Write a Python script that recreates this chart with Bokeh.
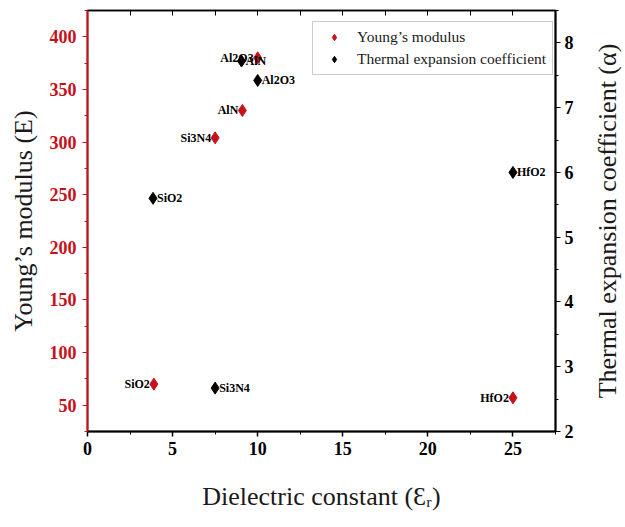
import math
from bokeh.plotting import figure
from bokeh.layouts import row
from bokeh.models import Range1d, LinearAxis, SingleIntervalTicker, FixedTicker, Legend, LegendItem, ColumnDataSource
from bokeh.core.properties import value
from bokeh.embed import file_html
from bokeh.resources import INLINE

# Data
materials_e = ["Al2O3", "AlN", "Si3N4", "SiO2", "HfO2"]
k_e = [10.0, 9.1, 7.5, 3.9, 25.0]
youngs = [380, 330, 304, 70, 57]

materials_a = ["AlN", "Al2O3", "SiO2", "HfO2", "Si3N4"]
k_a = [9.05, 10.0, 3.85, 25.0, 7.5]
thermal = [7.72, 7.42, 5.6, 6.0, 2.67]

right_title_text = ["Thermal expansion coefficient (\u03b1)"]

SERIF = "Liberation Serif"
RED = "#c8101a"
TITLE_COLOR = "#1a1a1a"

p = figure(width=580, height=527, x_range=Range1d(0, 27.5), y_range=Range1d(25, 425),
           output_backend="svg", toolbar_location=None,
           min_border_left=87, min_border_right=25, min_border_top=10, min_border_bottom=96)
p.extra_y_ranges = {"right": Range1d(2, 8.5)}
p.grid.visible = False
p.outline_line_color = "black"
p.outline_line_width = 1.5
p.background_fill_color = "white"
p.border_fill_color = "white"

# bottom axis
xa = p.xaxis[0]
xa.ticker = SingleIntervalTicker(interval=5, num_minor_ticks=2)
xa.axis_label = "Dielectric constant (\u0190\u1d63)"
xa.axis_label_text_font = SERIF
xa.axis_label_text_font_style = "normal"
xa.axis_label_text_font_size = "26px"
xa.axis_label_text_color = TITLE_COLOR
xa.axis_label_standoff = 24
xa.major_label_text_font = SERIF
xa.major_label_text_font_style = "bold"
xa.major_label_text_font_size = "18px"
xa.major_label_text_color = "black"
xa.major_label_standoff = 5
xa.axis_line_width = 2
xa.axis_line_color = "black"
xa.major_tick_out = 5
xa.major_tick_in = 0
xa.minor_tick_out = 3
xa.minor_tick_in = 0
xa.major_tick_line_width = 1.5

# left axis
ya = p.yaxis[0]
ya.ticker = SingleIntervalTicker(interval=50, num_minor_ticks=2)
ya.axis_label = "Young\u2019s modulus (E)"
ya.axis_label_text_font = SERIF
ya.axis_label_text_font_style = "normal"
ya.axis_label_text_font_size = "26px"
ya.axis_label_text_color = TITLE_COLOR
ya.axis_label_standoff = 9
ya.major_label_text_font = SERIF
ya.major_label_text_font_style = "bold"
ya.major_label_text_font_size = "18px"
ya.major_label_text_color = RED
ya.axis_line_color = RED
ya.axis_line_width = 2
ya.major_tick_line_color = RED
ya.minor_tick_line_color = RED
ya.major_tick_out = 5
ya.major_tick_in = 0
ya.minor_tick_out = 3
ya.minor_tick_in = 0
ya.major_label_standoff = 6

# right axis
ra = LinearAxis(y_range_name="right", ticker=SingleIntervalTicker(interval=1, num_minor_ticks=2))
ra.major_label_text_font = SERIF
ra.major_label_text_font_style = "bold"
ra.major_label_text_font_size = "18px"
ra.major_label_text_color = "black"
ra.axis_line_width = 2
ra.major_tick_out = 5
ra.major_tick_in = 0
ra.minor_tick_out = 3
ra.minor_tick_in = 0
ra.major_label_standoff = 4
p.add_layout(ra, "right")

# top axis (ticks only, no labels)
ta = LinearAxis(ticker=FixedTicker(ticks=[], minor_ticks=[i * 2.5 for i in range(11)]))
ta.major_label_standoff = 0
ta.major_tick_out = 0
ta.major_tick_in = 0
ta.minor_tick_out = 0
ta.minor_tick_in = 5
ta.axis_line_width = 1.5
p.add_layout(ta, "above")

src_e = ColumnDataSource(dict(x=k_e, y=youngs, name=materials_e))
src_a = ColumnDataSource(dict(x=k_a, y=thermal, name=materials_a))

r_e = p.scatter("x", "y", source=src_e, marker="diamond", size=12, fill_color=RED, line_color=RED)
r_a = p.scatter("x", "y", source=src_a, marker="diamond", size=12, fill_color="black", line_color="black",
                y_range_name="right")

p.text("x", "y", text="name", source=src_e, text_font=value(SERIF), text_font_style="bold",
       text_font_size="12px", text_align="right", text_baseline="middle", x_offset=-4, text_color="black")
p.text("x", "y", text="name", source=src_a, text_font=value(SERIF), text_font_style="bold",
       text_font_size="12px", text_align="left", text_baseline="middle", x_offset=4, text_color="black",
       y_range_name="right")

legend = Legend(items=[LegendItem(label="Young\u2019s modulus", renderers=[r_e]),
                       LegendItem(label="Thermal expansion coefficient", renderers=[r_a])],
                location=(225, 356))
legend.label_text_font = SERIF
legend.label_text_font_size = "15.5px"
legend.label_text_color = TITLE_COLOR
legend.label_height = 16
legend.glyph_height = 16
legend.glyph_width = 30
legend.label_standoff = 8
legend.padding = 6
legend.spacing = 4
legend.margin = 0
legend.border_line_color = "#999999"
legend.border_line_width = 1
legend.background_fill_color = "white"
p.add_layout(legend)

# narrow strip holding the right-axis title (reads bottom-to-top like the left title)
p2 = figure(width=45, height=527, x_range=Range1d(0, 1), y_range=Range1d(0, 1),
            output_backend="svg", toolbar_location=None,
            x_axis_location=None, y_axis_location=None,
            min_border_left=0, min_border_right=0, min_border_top=10, min_border_bottom=96)
p2.grid.visible = False
p2.outline_line_color = None
p2.border_fill_color = "white"
p2.background_fill_color = "white"
p2.text(x=[0.6], y=[0.5], text=right_title_text, angle=math.pi / 2,
        text_align="center", text_baseline="middle",
        text_font=value(SERIF), text_font_size="26px", text_color=TITLE_COLOR)

layout = row(p, p2, spacing=0)
open("out.html", "w").write(file_html(layout, INLINE))
